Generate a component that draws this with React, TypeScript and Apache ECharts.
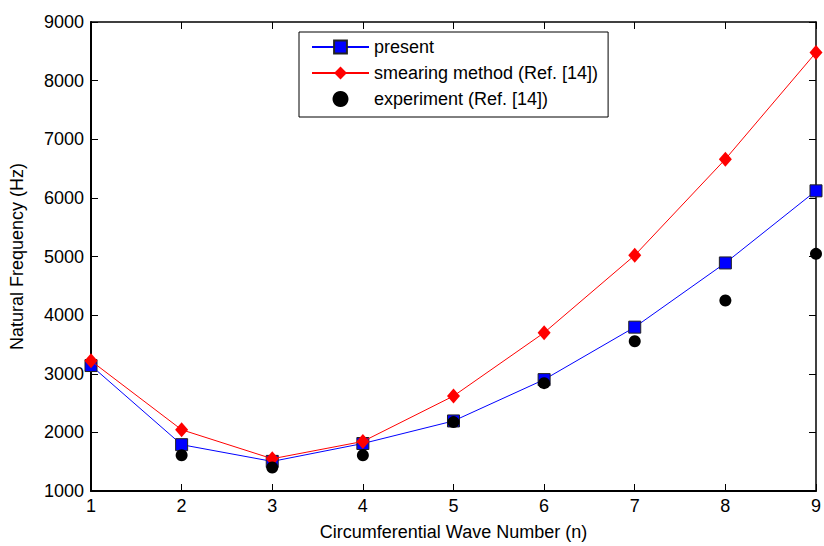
import React, { useEffect, useRef } from "react";
import * as echarts from "echarts";

const waveNumbers = [1, 2, 3, 4, 5, 6, 7, 8, 9];
const presentValues = [3140, 1790, 1505, 1810, 2195, 2900, 3795, 4890, 6120];
const smearingValues = [3220, 2045, 1550, 1845, 2620, 3700, 5020, 6660, 8480];
const experimentN = [2, 3, 4, 5, 6, 7, 8, 9];
const experimentValues = [1610, 1400, 1610, 2175, 2840, 3555, 4250, 5045];

const FONT = "'Liberation Sans', Arial, Helvetica, sans-serif";

export default function App() {
  const ref = useRef<HTMLDivElement>(null);
  useEffect(() => {
    if (!ref.current) return;
    const chart = echarts.init(ref.current, undefined, { renderer: "svg" });
    const present = waveNumbers.map((n, i) => [n, presentValues[i]]);
    const smearing = waveNumbers.map((n, i) => [n, smearingValues[i]]);
    const experiment = experimentN.map((n, i) => [n, experimentValues[i]]);
    const axisLine = { show: true, lineStyle: { color: "#000", width: 1.5 } };
    const tick = { show: true, inside: true, length: 7, lineStyle: { color: "#000", width: 1 } };
    chart.setOption({
      animation: false,
      backgroundColor: "#fff",
      textStyle: { fontFamily: FONT },
      grid: { left: 89, right: 3, top: 22, bottom: 47, containLabel: false },
      legend: {
        orient: "vertical",
        left: 299,
        top: 32,
        align: "left",
        itemWidth: 57,
        itemHeight: 16,
        itemGap: 8,
        padding: [6, 10, 9, 12],
        borderColor: "#000",
        borderWidth: 1,
        backgroundColor: "#fff",
        textStyle: { fontFamily: FONT, fontSize: 18, color: "#000" },
        data: ["present", "smearing method (Ref. [14])", "experiment (Ref. [14])"],
      },
      xAxis: [
        {
          type: "value",
          min: 1,
          max: 9,
          interval: 1,
          position: "bottom",
          name: "Circumferential Wave Number (n)",
          nameLocation: "middle",
          nameGap: 32,
          nameTextStyle: { fontFamily: FONT, fontSize: 18, color: "#000" },
          axisLine: { ...axisLine, lineStyle: { color: "#000", width: 2 } },
          axisTick: tick,
          axisLabel: { fontFamily: FONT, fontSize: 18, color: "#000", margin: 6 },
          splitLine: { show: false },
        },
        {
          type: "value",
          min: 1,
          max: 9,
          interval: 1,
          position: "top",
          axisLine: axisLine,
          axisTick: tick,
          axisLabel: { show: false },
          splitLine: { show: false },
        },
      ],
      yAxis: [
        {
          type: "value",
          min: 1000,
          max: 9000,
          interval: 1000,
          position: "left",
          name: "Natural Frequency (Hz)",
          nameLocation: "middle",
          nameGap: 65,
          nameTextStyle: { fontFamily: FONT, fontSize: 18, color: "#000" },
          axisLine: { ...axisLine, lineStyle: { color: "#000", width: 2 } },
          axisTick: tick,
          axisLabel: {
            fontFamily: FONT,
            fontSize: 18,
            color: "#000",
            margin: 7,
            formatter: (v: number) => String(v),
          },
          splitLine: { show: false },
        },
        {
          type: "value",
          min: 1000,
          max: 9000,
          interval: 1000,
          position: "right",
          axisLine: axisLine,
          axisTick: tick,
          axisLabel: { show: false },
          splitLine: { show: false },
        },
      ],
      series: [
        {
          name: "present",
          type: "line",
          data: present,
          symbol: "rect",
          symbolSize: 12,
          showAllSymbol: true,
          lineStyle: { color: "#0000ff", width: 1 },
          itemStyle: { color: "#0000ff", borderColor: "#222", borderWidth: 1 },
          z: 2,
        },
        {
          name: "smearing method (Ref. [14])",
          type: "line",
          data: smearing,
          symbol: "diamond",
          symbolSize: [13, 15],
          lineStyle: { color: "#ff0000", width: 1 },
          itemStyle: { color: "#ff0000" },
          z: 3,
        },
        {
          name: "experiment (Ref. [14])",
          type: "scatter",
          data: experiment,
          symbol: "circle",
          symbolSize: 12,
          itemStyle: { color: "#000", opacity: 1 },
          z: 4,
        },
      ],
    });
    return () => chart.dispose();
  }, []);
  return (
    <div
      ref={ref}
      style={{ position: "absolute", left: 0, top: 0, width: 824, height: 546 }}
    />
  );
}
